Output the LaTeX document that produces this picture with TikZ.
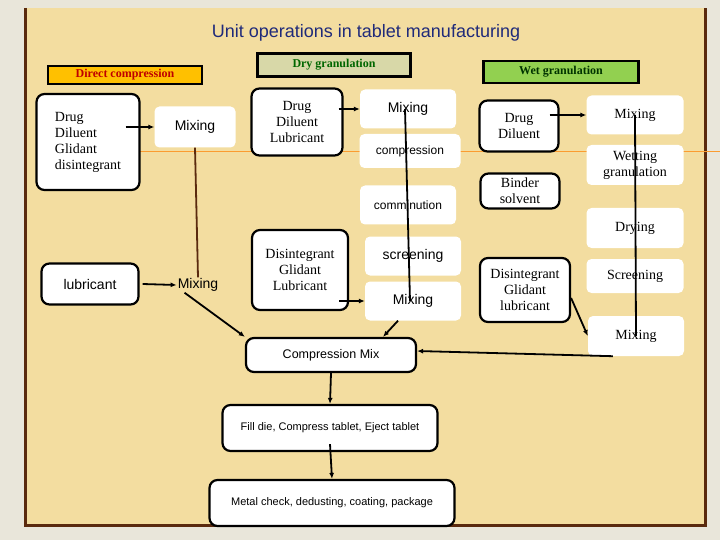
\documentclass[tikz,border=0pt]{standalone}
\usepackage{fontspec}
\setmainfont{Liberation Serif}
\setsansfont{Liberation Sans}
\usetikzlibrary{arrows.meta}
\definecolor{panel}{HTML}{F3DDA0}
\definecolor{outer}{HTML}{E9E6DA}
\definecolor{rim}{HTML}{5A2A0E}
\definecolor{navy}{HTML}{1F2A7A}
\begin{document}
\begin{tikzpicture}[x=1pt,y=-1pt,
    ingr/.style={draw, line width=2.2pt, rounded corners=8pt, fill=white, align=center, inner sep=0pt, font=\fontsize{14}{16}\selectfont},
    op/.style={fill=white, rounded corners=5pt, align=center, inner sep=0pt, font=\sffamily\fontsize{14}{16}\selectfont},
    wop/.style={fill=white, rounded corners=5pt, align=center, inner sep=0pt, font=\fontsize{14}{16}\selectfont},
    head/.style={draw, line width=2.2pt, inner sep=0pt, font=\bfseries\fontsize{12}{14}\selectfont},
    arr/.style={-{Latex[length=6pt,width=5pt]}, line width=1.8pt},
    link/.style={line width=1.8pt}]
    \useasboundingbox (0,0) rectangle (720,540);
    \fill[outer] (0,0) rectangle (720,540);
    \fill[panel] (25,8) rectangle (705,525);
    \draw[rim, line width=3pt] (25,8) -- (25,525) -- (705,525) -- (705,8);
    \draw[orange!70!panel, line width=1pt] (140,152) -- (720,152);
    \node[navy, font=\sffamily\fontsize{18}{20}\selectfont] (title) at (366,33) {Unit operations in tablet manufacturing};

    % direct compression
    \node[head, fill={rgb,255:red,255;green,192;blue,0}, text=red!75!black, minimum width=154pt, minimum height=18pt] (dchead) at (125,75) {Direct compression};
    \node[ingr, align=left, minimum width=103pt, minimum height=96pt] (dcin) at (88,142) {Drug\\Diluent\\Glidant\\disintegrant};
    \node[op, minimum width=81pt, minimum height=41pt] (dcmix) at (195,127) {Mixing};
    \node[ingr, font=\sffamily\fontsize{14}{16}\selectfont, minimum width=97pt, minimum height=41pt] (lub) at (90,284) {lubricant};
    \node[font=\sffamily\fontsize{14}{16}\selectfont, inner sep=1pt] (lmix) at (198,285) {Mixing};

    % dry granulation
    \node[head, fill={rgb,255:red,216;green,216;blue,168}, text=green!40!black, minimum width=153pt, minimum height=23pt] (dryhead) at (334,65) {Dry granulation};
    \node[ingr, minimum width=91pt, minimum height=67pt] (drin) at (297,122) {Drug\\Diluent\\Lubricant};
    \node[op, minimum width=96pt, minimum height=39pt] (dmix) at (408,109) {Mixing};
    \node[op, font=\sffamily\fontsize{12}{14}\selectfont, minimum width=101pt, minimum height=34pt] (comp) at (410,151) {compression};
    \node[op, font=\sffamily\fontsize{12}{14}\selectfont, minimum width=96pt, minimum height=39pt] (comm) at (408,205) {comminution};
    \node[ingr, minimum width=96pt, minimum height=80pt] (drdis) at (300,270) {Disintegrant\\Glidant\\Lubricant};
    \node[op, minimum width=96pt, minimum height=39pt] (scr) at (413,256) {screening};
    \node[op, minimum width=96pt, minimum height=39pt] (dmix2) at (413,301) {Mixing};

    % wet granulation
    \node[head, fill={rgb,255:red,146;green,208;blue,80}, text=green!20!black, minimum width=155pt, minimum height=22pt] (wethead) at (561,72) {Wet granulation};
    \node[ingr, minimum width=79pt, minimum height=51pt] (wdrug) at (519,126) {Drug\\Diluent};
    \node[ingr, minimum width=79pt, minimum height=35pt] (bind) at (520,191) {Binder\\solvent};
    \node[ingr, minimum width=90pt, minimum height=64pt] (wdis) at (525,290) {Disintegrant\\Glidant\\lubricant};
    \node[wop, minimum width=97pt, minimum height=39pt] (wmix) at (635,115) {Mixing};
    \node[wop, minimum width=97pt, minimum height=40pt] (wetg) at (635,165) {Wetting\\granulation};
    \node[wop, minimum width=97pt, minimum height=40pt] (wdry) at (635,228) {Drying};
    \node[wop, minimum width=97pt, minimum height=34pt] (wscr) at (635,276) {Screening};
    \node[wop, minimum width=96pt, minimum height=40pt] (wmix2) at (636,336) {Mixing};

    % common steps
    \node[ingr, font=\sffamily\fontsize{12.5}{14}\selectfont, minimum width=170pt, minimum height=34pt] (cmix) at (331,355) {Compression Mix};
    \node[ingr, font=\sffamily\fontsize{11}{13}\selectfont, minimum width=215pt, minimum height=46pt] (fill) at (330,428) {Fill die, Compress tablet, Eject tablet};
    \node[ingr, font=\sffamily\fontsize{11}{13}\selectfont, minimum width=245pt, minimum height=46pt] (metal) at (332,503) {Metal check, dedusting, coating, package};

    % connectors
    \draw[arr] (dcin.east |- dcmix) ++(-15,0) -- (dcmix.west);
    \draw[link, rim] (dcmix.south) -- (lmix.north);
    \draw[arr] (lub.east) ++(3,0) -- (lmix.west);
    \draw[arr] (lmix.south west) ++(8,0) -- (cmix.north west);
    \draw[arr] (drin.east |- dmix) ++(-5,0) -- (dmix.west);
    \draw[link] ([xshift=-3pt]dmix.center) -- ([xshift=-3pt]dmix2.center);
    \draw[arr] ([xshift=-10pt]drdis.east |- dmix2.west) -- (dmix2.west);
    \draw[arr] ([xshift=-15pt]dmix2.south) -- ([xshift=52pt]cmix.north);
    \draw[arr] ([xshift=-10pt]wdrug.east |- wmix.west) -- (wmix.west);
    \draw[link] (wmix.center) -- (wmix2.center);
    \draw[arr] ([yshift=-8pt]wdis.east) -- (wmix2.west);
    \draw[arr] ([xshift=25pt]wmix2.south west) -- ([yshift=4pt]cmix.east);
    \draw[arr] (cmix.south) -- (fill.north);
    \draw[arr] ([yshift=8pt]fill.south) -- (metal.north);
\end{tikzpicture}
\end{document}
